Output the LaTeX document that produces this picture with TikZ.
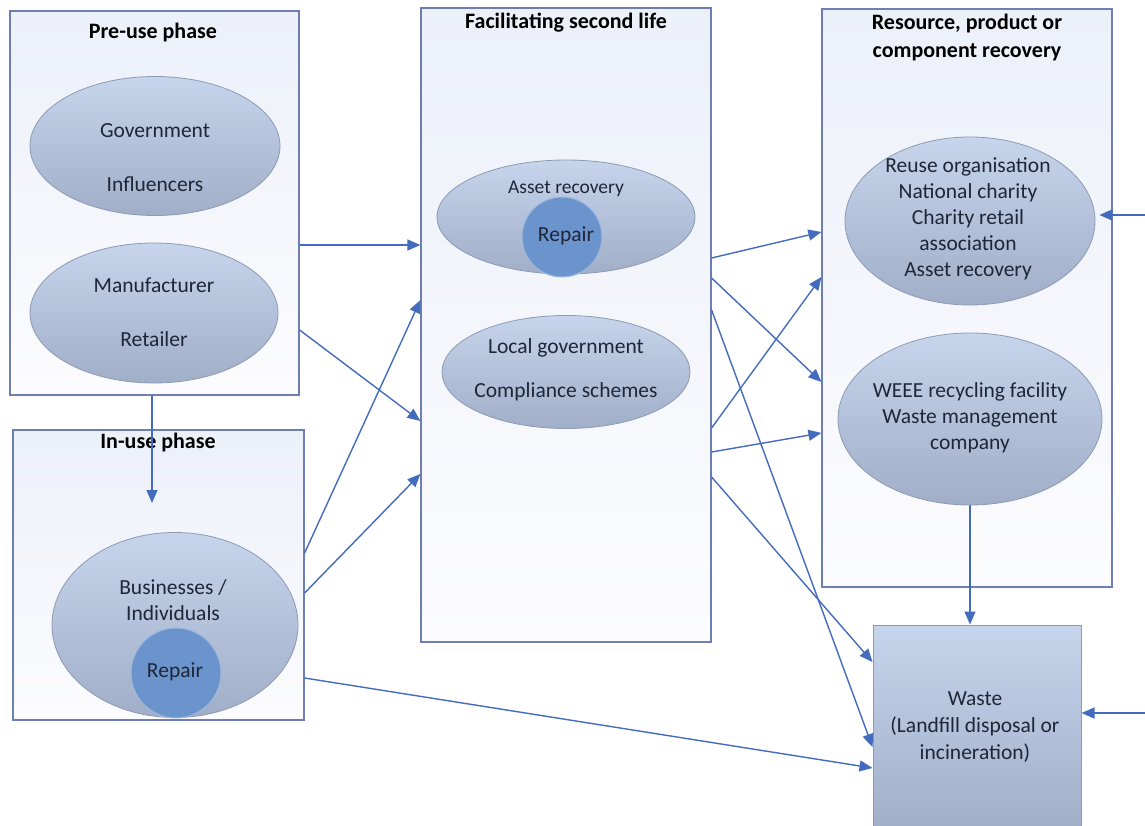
\documentclass[tikz,border=0pt]{standalone}
\usepackage{fontspec}
\setmainfont{Carlito}
\usetikzlibrary{arrows.meta,shapes.geometric}
\definecolor{boxline}{RGB}{108,126,180}
\definecolor{boxtop}{RGB}{236,240,249}
\definecolor{boxbot}{RGB}{252,252,254}
\definecolor{ovaltop}{RGB}{198,212,236}
\definecolor{ovalbot}{RGB}{160,174,200}
\definecolor{ovalline}{RGB}{140,154,180}
\definecolor{repfill}{RGB}{108,148,204}
\definecolor{repline}{RGB}{158,184,222}
\definecolor{txt}{RGB}{30,38,56}
\definecolor{arrowc}{RGB}{68,108,190}
\begin{document}
\begin{tikzpicture}[x=1pt,y=-1pt,
  phasebox/.style={draw=boxline, line width=1.2pt, top color=boxtop, bottom color=boxbot, rectangle, inner sep=0pt},
  oval/.style={ellipse, draw=ovalline, line width=0.8pt, top color=ovaltop, bottom color=ovalbot, inner sep=0pt},
  repairc/.style={circle, draw=repline, line width=1pt, fill=repfill, inner sep=0pt},
  wastebox/.style={rectangle, draw=ovalline, line width=1pt, top color=ovaltop, bottom color=ovalbot, inner sep=0pt},
  lbl/.style={text=txt, align=center, inner sep=0pt, font=\fontsize{21.5}{26}\selectfont},
  ttl/.style={text=black, align=center, inner sep=0pt, font=\fontsize{22}{28}\selectfont\bfseries},
  arr/.style={draw=arrowc, line width=1.4pt, -{Triangle[length=13pt,width=11pt]}}
]
\useasboundingbox (0,0) rectangle (1145,826);
\fill[white] (0,0) rectangle (1145,826);

% phase boxes
\node[phasebox, minimum width=289pt, minimum height=384pt] (pre) at (154.5,203) {};
\node[phasebox, minimum width=291pt, minimum height=290pt] (inuse) at (158.5,575) {};
\node[phasebox, minimum width=290pt, minimum height=634pt] (mid) at (566,325) {};
\node[phasebox, minimum width=290pt, minimum height=578pt] (rec) at (967,298) {};
\node[wastebox, minimum width=208pt, minimum height=207pt] (waste) at (977,728.5) {};

% ovals
\node[oval, minimum width=250pt, minimum height=139pt] (gov) at (155,146) {};
\node[oval, minimum width=248pt, minimum height=140pt] (man) at (154,313) {};
\node[oval, minimum width=246pt, minimum height=185pt] (bus) at (175,625) {};
\node[repairc, minimum size=90pt] (repA) at (176,673) {};
\node[oval, minimum width=258pt, minimum height=114pt] (asset) at (566,217) {};
\node[repairc, minimum size=80pt] (repB) at (562,237) {};
\node[oval, minimum width=248pt, minimum height=113pt] (local) at (566,372) {};
\node[oval, minimum width=250pt, minimum height=168pt] (reuse) at (970,221) {};
\node[oval, minimum width=264pt, minimum height=172pt] (weee) at (970,419) {};

% titles
\node[ttl] (tpre) at (153,33) {Pre-use phase};
\node[ttl] (tin) at (158,443) {In-use phase};
\node[ttl] (tmid) at (566,23) {Facilitating second life};
\node[ttl] (trec) at (967,38) {Resource, product or\\component recovery};

% labels
\node[lbl] (lgov) at (155,131) {Government};
\node[lbl] (linf) at (155,184) {Influencers};
\node[lbl] (lman) at (154,285) {Manufacturer};
\node[lbl] (lret) at (154,339) {Retailer};
\node[lbl] (lbus) at (173,600) {Businesses /\\Individuals};
\node[lbl] (lrepA) at (175,672) {Repair};
\node[lbl, font=\fontsize{19.5}{24}\selectfont] (lasset) at (566,189) {Asset recovery};
\node[lbl] (lrepB) at (566,236) {Repair};
\node[lbl] (llocal) at (566,348) {Local government};
\node[lbl] (lcomp) at (566,392) {Compliance schemes};
\node[lbl] (lreuse) at (968,219) {Reuse organisation\\National charity\\Charity retail\\association\\Asset recovery};
\node[lbl] (lweee) at (970,418) {WEEE recycling facility\\Waste management\\company};
\node[lbl, font=\fontsize{21.5}{27}\selectfont] (lwaste) at (975,727) {Waste\\(Landfill disposal or\\incineration)};

% free ends
\coordinate (inTip) at (152,503);
\coordinate (edge1) at (1146,215);
\coordinate (edge2) at (1146,713);

% connectors
\draw[arr] (pre.south -| inTip) -- (inTip);
\draw[arr] (pre.east |- 0,245) -- (mid.west |- 0,245);
\draw[arr] (pre.east |- 0,330) -- (mid.west |- 0,421);
\draw[arr] (inuse.east |- 0,553) -- (mid.west |- 0,300);
\draw[arr] (inuse.east |- 0,593) -- (mid.west |- 0,474);
\draw[arr] (inuse.east |- 0,678) -- (waste.west |- 0,768);

\draw[arr] (mid.east |- 0,258) -- (rec.west |- 0,232);
\draw[arr] (mid.east |- 0,278) -- (rec.west |- 0,382);
\draw[arr] (mid.east |- 0,310) -- (waste.west |- 0,747);
\draw[arr] (mid.east |- 0,428) -- (rec.west |- 0,277);
\draw[arr] (mid.east |- 0,452) -- (rec.west |- 0,433);
\draw[arr] (mid.east |- 0,477) -- (waste.west |- 0,662);

\draw[arr] (weee.south) -- (weee.south |- waste.north);
\draw[arr] (edge1) -- ([xshift=4pt]reuse.east |- edge1);
\draw[arr] (edge2) -- (waste.east |- edge2);
\end{tikzpicture}
\end{document}
